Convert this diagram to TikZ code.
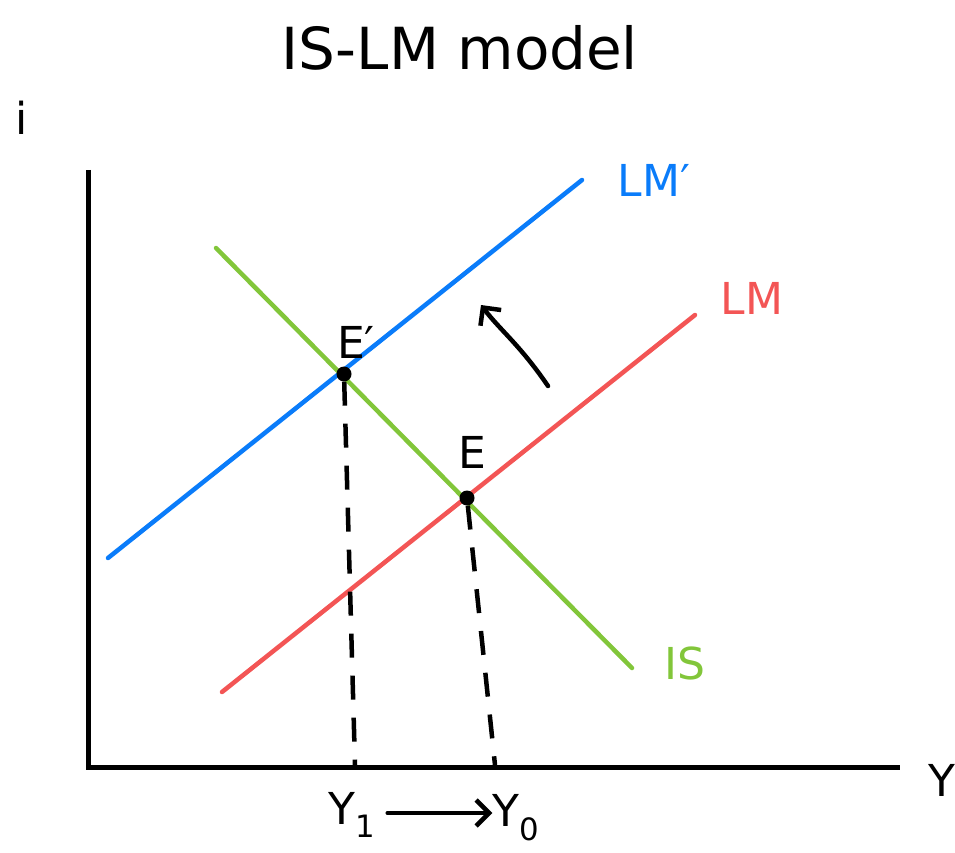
\documentclass[tikz,border=0pt]{standalone}
\usepackage{fontspec}
\setmainfont{DejaVu Sans}
\usetikzlibrary{arrows.meta}
\definecolor{lmblue}{RGB}{10,124,250}
\definecolor{lmred}{RGB}{243,85,85}
\definecolor{isgreen}{RGB}{130,198,58}
\tikzset{
  curve/.style={line width=4.5pt, line cap=round},
  axis/.style={line width=5pt, black},
  guide/.style={line width=4.5pt, dash pattern=on 24pt off 18pt},
  dot/.style={circle, fill=black, inner sep=0pt, minimum size=15pt},
  lbl/.style={inner sep=0pt, font=\fontsize{44}{48}\selectfont},
  hand/.style={line width=4.5pt, line cap=round, -{Straight Barb[length=13pt,width=26pt,line width=4.5pt]}}
}
\begin{document}
\begin{tikzpicture}[x=1pt,y=-1pt]
\useasboundingbox (0,0) rectangle (955,853);
% title
\node[lbl, font=\fontsize{58}{64}\selectfont] (title) at (460,48) {IS-LM model};
\node[lbl] (ilab) at (22,118) {i};
% axes
\coordinate (otop) at (88,170);
\coordinate (orig) at (88,767);
\coordinate (xend) at (900,767);
\draw[axis] (otop) -- (orig) -- (xend);
\node[lbl] (ylab) at (942,780) {Y};
% curves
\coordinate (lmpA) at (108,558); \coordinate (lmpB) at (582,180);
\coordinate (lmA) at (222,692); \coordinate (lmB) at (695,315);
\coordinate (isA) at (216,248); \coordinate (isB) at (632,668);
\draw[curve, lmblue] (lmpA) -- (lmpB);
\draw[curve, lmred] (lmA) -- (lmB);
\draw[curve, isgreen] (isA) -- (isB);
\node[lbl, text=lmblue] (lmplab) at (654,180) {LM′};
\node[lbl, text=lmred] (lmlab) at (752,298) {LM};
\node[lbl, text=isgreen] (islab) at (685,663) {IS};
% equilibria
\node[dot] (Ep) at (344,374) {};
\node[dot] (E) at (467,498) {};
\node[lbl] (Eplab) at (356,342) {E′};
\node[lbl] (Elab) at (472,452) {E};
\coordinate (y1) at (355,765);
\coordinate (y0) at (495,765);
\draw[guide] (Ep) -- (y1);
\draw[guide] (E) -- (y0);
% shift arrow
\coordinate (sh1) at (548,386);
\coordinate (sh2) at (481,305);
\draw[hand] (sh1) .. controls (520,345) and (500,330) .. (sh2);
% bottom labels
\node[lbl] (Y1) at (352,815) {Y\textsubscript{1}};
\node[lbl] (Y0) at (516,818) {Y\textsubscript{0}};
\draw[hand] (Y1.east) ++(12,-2) coordinate (ya) -- (Y0.west |- ya);
\end{tikzpicture}
\end{document}
